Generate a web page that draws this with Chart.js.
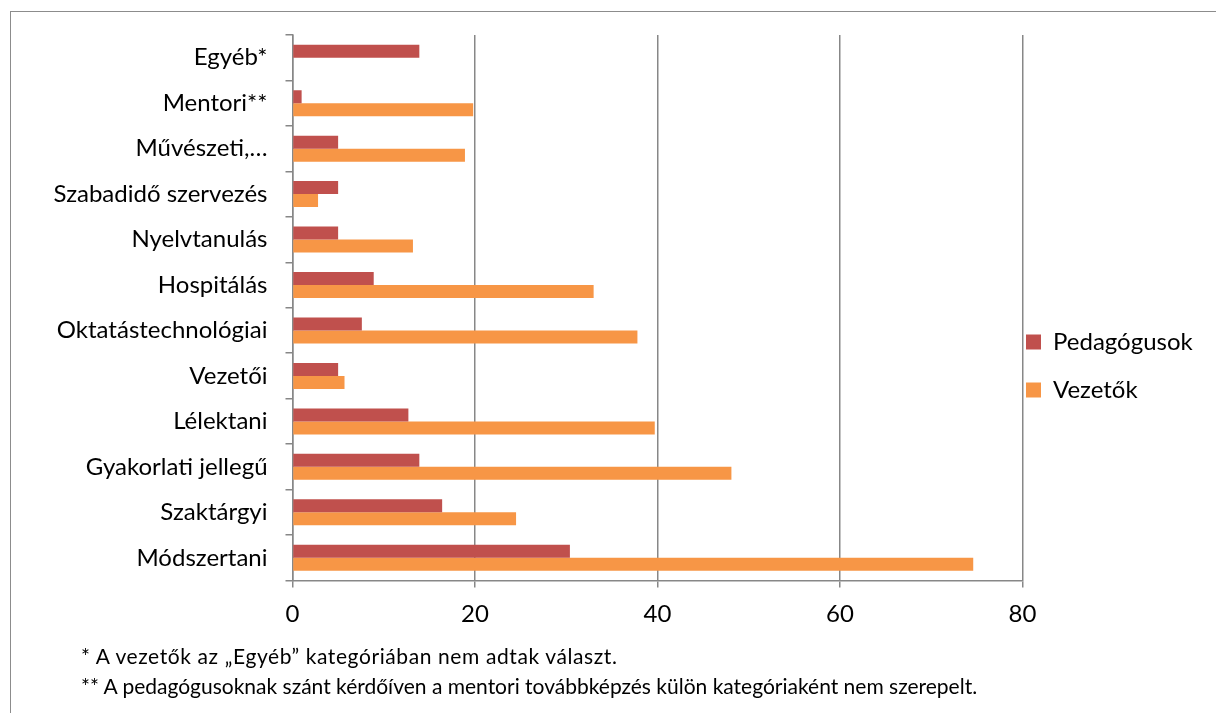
<!DOCTYPE html>
<html>
<head>
<meta charset="utf-8">
<script src="https://cdn.jsdelivr.net/npm/chart.js@4"></script>
<style>
  html, body { margin: 0; padding: 0; background: #fff; }
  body { width: 1216px; height: 713px; position: relative; overflow: hidden; font-family: Lato, sans-serif; }
  #frame { position: absolute; left: 10px; top: 11px; width: 1300px; height: 800px; border: 1px solid #8c8c8c; box-sizing: border-box; }
  #wrap { position: absolute; left: 0; top: 0; width: 1216px; height: 713px; }
  .note { position: absolute; left: 81px; font-family: Lato, sans-serif; font-size: 21px; color: #000; white-space: nowrap; line-height: 1; }
</style>
</head>
<body>
<div id="frame"></div>
<div id="wrap"><canvas id="c" width="1216" height="713"></canvas></div>
<div class="note" id="n1" style="top:645px; letter-spacing:0.6px;">* A vezetők az „Egyéb” kategóriában nem adtak választ.</div>
<div class="note" id="n2" style="top:675px;">** A pedagógusoknak szánt kérdőíven a mentori továbbképzés külön kategóriaként nem szerepelt.</div>
<script>
const categories = ["Egyéb*", "Mentori**", "Művészeti,…", "Szabadidő szervezés", "Nyelvtanulás", "Hospitálás", "Oktatástechnológiai", "Vezetői", "Lélektani", "Gyakorlati jellegű", "Szaktárgyi", "Módszertani"];
const pedagogusok = [13.9, 1.0, 5.0, 5.0, 5.0, 8.9, 7.6, 5.0, 12.7, 13.9, 16.4, 30.4];
const vezetok = [null, 19.8, 18.9, 2.8, 13.2, 33.0, 37.8, 5.7, 39.7, 48.1, 24.5, 74.6];
const xTicks = [0, 20, 40, 60, 80];
const seriesNames = ["Pedagógusok", "Vezetők"];

const GRAY = '#878787';
const FONT = 'Lato';

const legendShift = {
  id: 'legendShift',
  beforeLayout(chart) {
    const lg = chart.legend;
    if (lg && !lg._patched) {
      const f = lg.fit;
      lg.fit = function () { f.call(this); this.width = 193.5; };
      lg._patched = true;
    }
  },
  afterLayout(chart) {
    if (chart.legend) chart.legend.left = chart.chartArea.right - 20.5;
  }
};

new Chart(document.getElementById('c'), {
  type: 'bar',
  data: {
    labels: categories,
    datasets: [
      { label: seriesNames[0], data: pedagogusok, backgroundColor: '#C0504D', borderWidth: 0 },
      { label: seriesNames[1], data: vezetok, backgroundColor: '#F79646', borderWidth: 0 }
    ]
  },
  options: {
    indexAxis: 'y',
    responsive: false,
    animation: false,
    events: [],
    datasets: { bar: { categoryPercentage: 0.572, barPercentage: 1.0 } },
    layout: { padding: { top: 35, bottom: 16, left: 0, right: 0 } },
    scales: {
      x: {
        min: 0, max: 80,
        afterBuildTicks(scale) { scale.ticks = xTicks.map(v => ({ value: v })); },
        afterFit(scale) { scale.height = 713 - 16 - 580.5; },
        grid: { color: GRAY, lineWidth: 1.5, drawOnChartArea: true, drawTicks: true, tickLength: 7, tickColor: GRAY },
        border: { display: true, color: GRAY, width: 1.5 },
        ticks: { color: '#000', font: { family: FONT, size: 24 }, padding: 12 }
      },
      y: {
        type: 'category',
        offset: true,
        afterFit(scale) { scale.width = 292.5; },
        grid: { offset: true, drawOnChartArea: false, drawTicks: true, tickLength: 7, tickColor: GRAY, lineWidth: 1.5 },
        border: { display: true, color: GRAY, width: 1.5 },
        ticks: { color: '#000', font: { family: FONT, size: 24 }, padding: 18, autoSkip: false }
      }
    },
    plugins: {
      legend: {
        position: 'right',
        align: 'center',
        labels: { color: '#000', font: { family: FONT, size: 24 }, boxWidth: 15, boxHeight: 15, padding: 24 }
      },
      tooltip: { enabled: false }
    }
  },
  plugins: [legendShift]
});
</script>
</body>
</html>
